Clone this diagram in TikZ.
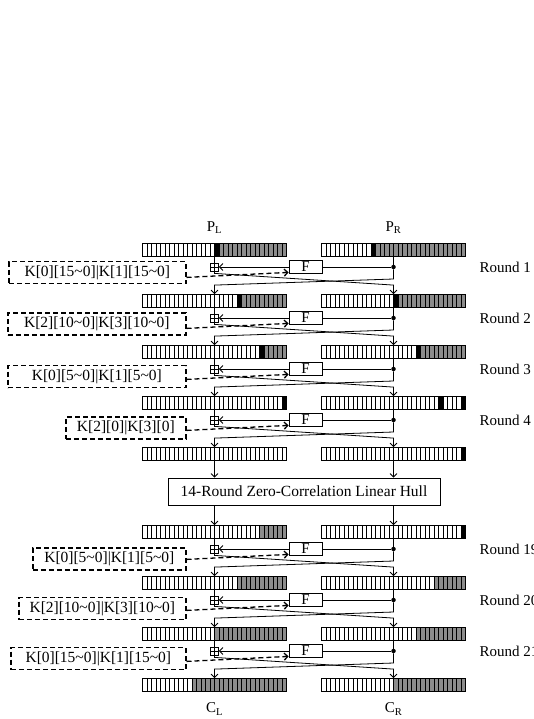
\documentclass[tikz,border=0pt]{standalone}
\usepackage{fontspec}
\setmainfont{Liberation Serif}
\usepackage{xcolor}
\definecolor{cellgray}{HTML}{8C8C8C}
\usepackage{tikz}
\usetikzlibrary{arrows.meta,calc}

\newcommand{\rng}{\textasciitilde}
% one 32-cell state word: name, left x, centre y, runs colour/from/to
\newcommand{\bitrow}[4]{%
  \foreach \clr/\ca/\cb in {#4}
    \fill[\clr] (#2+\ca*4.5,#3-6.5) rectangle (#2+\cb*4.5,#3+6.5);
  \foreach \k in {1,...,31}
    \draw[cellline] (#2+\k*4.5,#3-6.5) -- (#2+\k*4.5,#3+6.5);
  \node[bitbar] (#1) at (#2+72,#3) {};
}
% one Feistel round: number, upper row, lower row, key text, key box width, key box drop
\newcommand{\fround}[6]{%
  \node[xorbox] (X#1) at ($(L#2.center)+(0,-17)$) {};
  \node[fbox] (F#1) at ($(L#2.center)+(91,-17)$) {F};
  \node[dot] (D#1) at ($(R#2.center)+(0,-17)$) {};
  \node[keybox, minimum width=#5pt] (K#1) at ($(L#2.center)+(-28,-#6)$) {#4};
  \node[roundlbl] (N#1) at ($(R#2.center)+(82.5,-17)$) {Round #1};
  \draw[wire] (L#2.south) -- (X#1.north);
  \draw[wire] (R#2.south) -- (D#1);
  \draw[wire] (D#1) -- (F#1.east);
  \draw[arr] (F#1.west) -- (X#1.east);
  \draw[keyarr] ($(K#1.east |- X#1.south)+(0,-6)$) -- ([yshift=1.5pt]F#1.south west);
  \draw[arr] (X#1.south) -- ++(0,-2) -- ($(R#3.north)+(0,9)$) -- (R#3.north);
  \draw[arr] (D#1) -- ++(0,-12) -- ($(L#3.north)+(0,9)$) -- (L#3.north);
}

\begin{document}
\begin{tikzpicture}[x=1pt, y=1pt,
  cellline/.style={line width=0.6pt},
  bitbar/.style={draw, line width=0.8pt, minimum width=144pt, minimum height=13pt, inner sep=0pt},
  wire/.style={line width=0.8pt},
  arr/.style={-{Straight Barb[length=3.5pt, width=7pt]}, line width=0.8pt},
  keyarr/.style={-{Straight Barb[length=3.5pt, width=7pt]}, line width=1.3pt, dash pattern=on 5pt off 3pt},
  keybox/.style={draw, line width=1.3pt, dash pattern=on 5pt off 3pt, anchor=east,
    minimum height=22pt, inner sep=0pt, font=\fontsize{15.5}{18}\selectfont},
  fbox/.style={draw, line width=0.8pt, fill=white, minimum width=33pt, minimum height=13pt,
    inner sep=0pt, font=\fontsize{15}{17}\selectfont},
  xorbox/.style={draw, line width=0.8pt, fill=white, minimum size=8pt, inner sep=0pt,
    path picture={\draw[line width=0.8pt] (path picture bounding box.north) -- (path picture bounding box.south)
      (path picture bounding box.west) -- (path picture bounding box.east);}},
  dot/.style={circle, fill, inner sep=0pt, minimum size=4.5pt},
  roundlbl/.style={anchor=west, font=\fontsize{15}{17}\selectfont},
  lbl/.style={font=\fontsize{15}{17}\selectfont},
  hullbox/.style={draw, line width=0.8pt, minimum width=272pt, minimum height=27pt,
    inner sep=0pt, font=\fontsize{15.5}{18}\selectfont}]
\useasboundingbox (0,0) rectangle (533,-719);
\clip (0,0) rectangle (533,-719);

\node[lbl] (PL) at (214.5,-228) {P\textsubscript{L}};
\node[lbl] (PR) at (393.5,-228) {P\textsubscript{R}};

\bitrow{L0}{142.5}{-250}{black/16/17, cellgray/17/32}
\bitrow{R0}{321.5}{-250}{black/11/12, cellgray/12/32}
\bitrow{L1}{142.5}{-301}{black/21/22, cellgray/22/32}
\bitrow{R1}{321.5}{-301}{black/16/17, cellgray/17/32}
\bitrow{L2}{142.5}{-352}{black/26/27, cellgray/27/32}
\bitrow{R2}{321.5}{-352}{black/21/22, cellgray/22/32}
\bitrow{L3}{142.5}{-403}{black/31/32}
\bitrow{R3}{321.5}{-403}{black/26/27, black/31/32}
\bitrow{L4}{142.5}{-454}{white/0/32}
\bitrow{R4}{321.5}{-454}{black/31/32}
\bitrow{L5}{142.5}{-532}{cellgray/26/32}
\bitrow{R5}{321.5}{-532}{black/31/32}
\bitrow{L6}{142.5}{-583}{cellgray/21/32}
\bitrow{R6}{321.5}{-583}{cellgray/25/32}
\bitrow{L7}{142.5}{-634}{cellgray/16/32}
\bitrow{R7}{321.5}{-634}{cellgray/21/32}
\bitrow{L8}{142.5}{-685}{cellgray/11/32}
\bitrow{R8}{321.5}{-685}{cellgray/16/32}

\fround{1}{0}{1}{K[0][15\rng0]|K[1][15\rng0]}{177}{22.5}
\fround{2}{1}{2}{K[2][10\rng0]|K[3][10\rng0]}{178}{23}
\fround{3}{2}{3}{K[0][5\rng0]|K[1][5\rng0]}{178}{24.5}
\fround{4}{3}{4}{K[2][0]|K[3][0]}{120}{25}

\node[hullbox] (H) at (304,-491.5) {14-Round Zero-Correlation Linear Hull};
\draw[arr] (L4.south) -- (L4.south |- H.north);
\draw[arr] (R4.south) -- (R4.south |- H.north);
\draw[arr] (H.south -| L5.north) -- (L5.north);
\draw[arr] (H.south -| R5.north) -- (R5.north);

\fround{19}{5}{6}{K[0][5\rng0]|K[1][5\rng0]}{153}{27}
\fround{20}{6}{7}{K[2][10\rng0]|K[3][10\rng0]}{167}{25.5}
\fround{21}{7}{8}{K[0][15\rng0]|K[1][15\rng0]}{175}{24.5}

\node[lbl] (CL) at (214.5,-709) {C\textsubscript{L}};
\node[lbl] (CR) at (393.5,-709) {C\textsubscript{R}};
\end{tikzpicture}
\end{document}
